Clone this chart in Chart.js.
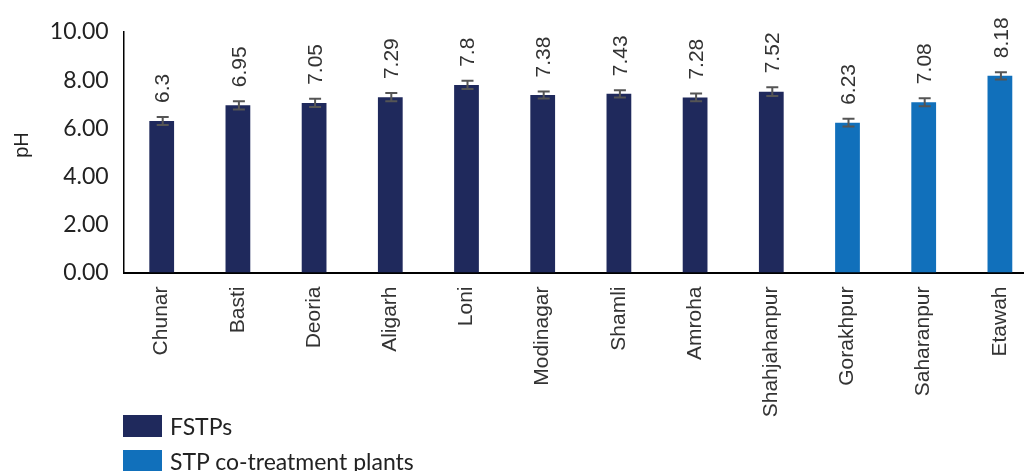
<!DOCTYPE html>
<html>
<head>
<meta charset="utf-8">
<script src="https://cdn.jsdelivr.net/npm/chart.js@4/dist/chart.umd.min.js"></script>
<style>
  html, body { margin: 0; padding: 0; background: #fff; overflow: hidden; }
  #wrap { position: relative; width: 1040px; height: 471px; }
  #legend { position: absolute; left: 123px; top: 408px; font-family: Lato, sans-serif; font-size: 23px; color: #222; }
  .item { display: flex; align-items: center; height: 35px; }
  .swatch { width: 39px; height: 22px; margin-right: 8px; }
</style>
</head>
<body>
<div id="wrap">
  <canvas id="phChart" width="1040" height="471"></canvas>
  <div id="legend"></div>
</div>
<script>
const towns = ['Chunar', 'Basti', 'Deoria', 'Aligarh', 'Loni', 'Modinagar', 'Shamli', 'Amroha', 'Shahjahanpur', 'Gorakhpur', 'Saharanpur', 'Etawah'];
const fstpPH = [6.3, 6.95, 7.05, 7.29, 7.8, 7.38, 7.43, 7.28, 7.52, null, null, null];
const coTreatPH = [null, null, null, null, null, null, null, null, null, 6.23, 7.08, 8.18];
const phError = [0.17, 0.17, 0.17, 0.17, 0.17, 0.15, 0.15, 0.16, 0.18, 0.16, 0.17, 0.15];
const yTicks = [0, 2, 4, 6, 8, 10];

const navy = '#1f295c';
const blue = '#1170bb';

// error bars plus value labels above each bar
const errorLabels = {
  id: 'errorLabels',
  afterDatasetsDraw(chart) {
    const ctx = chart.ctx;
    const yScale = chart.scales.y;
    chart.data.datasets.forEach((ds, di) => {
      const meta = chart.getDatasetMeta(di);
      meta.data.forEach((bar, i) => {
        const v = ds.data[i];
        if (v === null) return;
        const err = phError[i];
        const top = yScale.getPixelForValue(v + err);
        const bot = yScale.getPixelForValue(v - err);
        const x = bar.x + 1;
        ctx.save();
        ctx.strokeStyle = '#555';
        ctx.lineWidth = 2;
        ctx.beginPath();
        ctx.moveTo(x, top); ctx.lineTo(x, bot);
        ctx.moveTo(x - 6, top); ctx.lineTo(x + 6, top);
        ctx.moveTo(x - 6, bot); ctx.lineTo(x + 6, bot);
        ctx.stroke();
        ctx.translate(bar.x + 2, top - 14);
        ctx.rotate(-Math.PI / 2);
        ctx.fillStyle = '#333';
        ctx.font = '21px "Liberation Sans", Arial, sans-serif';
        ctx.textAlign = 'left';
        ctx.textBaseline = 'middle';
        ctx.fillText(String(v), 0, 0);
        ctx.restore();
      });
    });
  }
};

// y title drawn by hand so it sits where it should
const yTitle = {
  id: 'yTitle',
  afterDraw(chart) {
    const ctx = chart.ctx;
    ctx.save();
    ctx.translate(22, 145);
    ctx.rotate(-Math.PI / 2);
    ctx.fillStyle = '#222';
    ctx.font = '20px "Liberation Sans", Arial, sans-serif';
    ctx.textAlign = 'center';
    ctx.textBaseline = 'middle';
    ctx.fillText('pH', 0, 0);
    ctx.restore();
  }
};

const phChart = new Chart(document.getElementById('phChart'), {
  type: 'bar',
  data: {
    labels: towns,
    datasets: [{
        label: 'FSTPs',
        data: fstpPH,
        backgroundColor: navy,
        barPercentage: 0.325,
        categoryPercentage: 1
      },
      {
        label: 'STP co-treatment plants',
        data: coTreatPH,
        backgroundColor: blue,
        barPercentage: 0.325,
        categoryPercentage: 1
      }
    ]
  },
  options: {
    responsive: false,
    animation: false,
    layout: {
      padding: { top: 32, right: 2, left: 0, bottom: 0 }
    },
    scales: {
      x: {
        stacked: true,
        grid: { display: false, drawTicks: false },
        border: { display: true, color: '#000', width: 2 },
        ticks: {
          minRotation: 90,
          maxRotation: 90,
          padding: 14,
          color: '#333',
          font: { family: '"Liberation Sans", Arial, sans-serif', size: 21 }
        },
        afterFit(scale) { scale.height = 198.5; }
      },
      y: {
        min: 0,
        max: 10,
        afterBuildTicks(scale) { scale.ticks = yTicks.map(v => ({ value: v })); },
        grid: { display: false, drawTicks: false },
        border: { display: true, color: '#000', width: 1.5 },
        ticks: {
          padding: 15,
          color: '#222',
          font: { family: 'Lato, sans-serif', size: 23 },
          callback: v => v.toFixed(2)
        },
        afterFit(scale) { scale.width = 123.6; }
      }
    },
    plugins: {
      legend: { display: false },
      tooltip: { enabled: false }
    }
  },
  plugins: [errorLabels, yTitle]
});

// legend stacked under the axis
const legendBox = document.getElementById('legend');
phChart.data.datasets.forEach(ds => {
  const item = document.createElement('div');
  item.className = 'item';
  const sw = document.createElement('div');
  sw.className = 'swatch';
  sw.style.background = ds.backgroundColor;
  const txt = document.createElement('span');
  txt.textContent = ds.label;
  item.appendChild(sw);
  item.appendChild(txt);
  legendBox.appendChild(item);
});
</script>
</body>
</html>
